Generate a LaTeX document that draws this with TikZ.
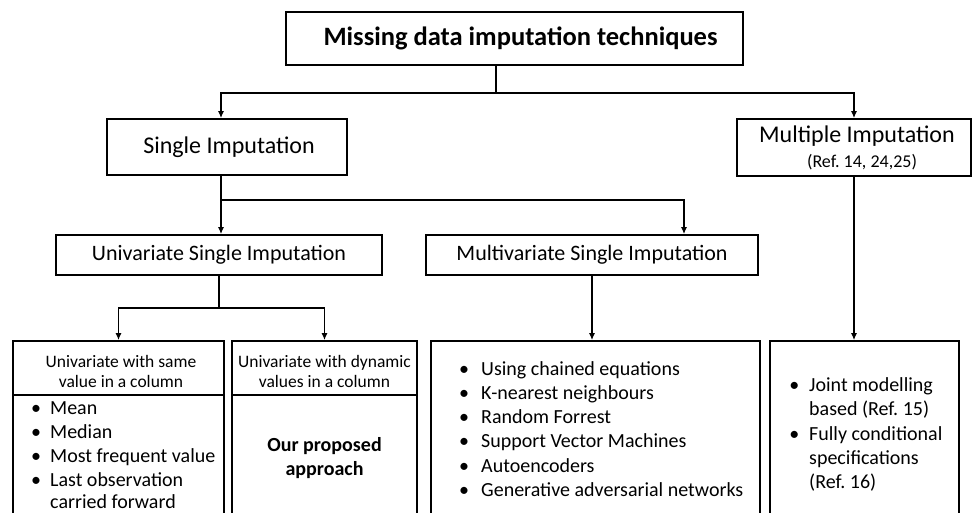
\documentclass[tikz,border=0pt]{standalone}
\usepackage{fontspec}
\setmainfont{Carlito}
\frenchspacing
\usetikzlibrary{shapes,arrows.meta,positioning}
\tikzset{
      box/.style   = {draw=black, line width=1.8pt, inner sep=0pt},
      link/.style  = {black, line width=1.2pt},
      arr/.style   = {black, line width=1.2pt, -{Latex[length=7pt,width=6pt]}},
      itemtxt/.style = {inner sep=0pt, anchor=base west, font=\fontsize{20}{24}\selectfont},
      headtxt/.style = {inner sep=0pt, anchor=base, font=\fontsize{17.5}{20}\selectfont},
    }
\newcommand{\itm}[1][9pt]{\llap{\textbullet\hspace{#1}}}

\begin{document}
\begin{tikzpicture}[x=1pt, y=-1pt]
    \useasboundingbox (0,0) rectangle (974,513);
    \clip (0,0) rectangle (974,513);

    % boxes
    \node[box, minimum width=457, minimum height=53, font=\fontsize{26.5}{30}\selectfont\bfseries] (title) at (514.5,38.5) {\hspace*{12pt}Missing data imputation techniques};
    \node[box, minimum width=240, minimum height=56, font=\fontsize{24}{28}\selectfont] (single) at (227,147) {\hspace*{4pt}Single Imputation};
    \node[box, minimum width=234, minimum height=57, align=center, font=\fontsize{24}{25}\selectfont] (multi) at (854,147.5) {\hspace*{6pt}Multiple Imputation\\{\fontsize{18}{26}\selectfont\hspace*{16pt}(Ref. 14, 24,25)}};
    \node[box, minimum width=326, minimum height=40, font=\fontsize{22}{26}\selectfont] (uni) at (219,255) {Univariate Single Imputation};
    \node[box, minimum width=332, minimum height=40, font=\fontsize{22}{26}\selectfont] (multiv) at (592,255) {Multivariate Single Imputation};
    \node[box, minimum width=211, minimum height=199] (b1) at (118.5,440.5) {};
    \node[box, minimum width=185, minimum height=199] (b2) at (324.5,440.5) {};
    \node[box, minimum width=329, minimum height=199] (b3) at (595.5,440.5) {};
    \node[box, minimum width=189, minimum height=199] (b4) at (864.5,440.5) {};

    % connectors
    \coordinate (j0) at (496,93);
    \coordinate (sx) at (221,0);
    \coordinate (j1) at (221,200);
    \coordinate (mx) at (684,0);
    \coordinate (j2) at (219,308);
    \coordinate (hd) at (0,395);
    \draw[link] (title.south -| j0) -- (j0);
    \draw[arr] (j0) -| (single.north -| sx);
    \draw[arr] (j0) -| (multi.north);
    \draw[arr] (single.south -| j1) -- (uni.north -| j1);
    \draw[arr] (j1) -| (multiv.north -| mx);
    \draw[link] (uni.south) -- (j2);
    \draw[arr] (j2) -| (b1.north);
    \draw[arr] (j2) -| (b2.north);
    \draw[arr] (multiv.south) -- (multiv.south |- b3.north);
    \draw[arr] (multi.south) -- (multi.south |- b4.north);
    \draw[line width=1.5pt] (b1.west |- hd) -- (b1.east |- hd);
    \draw[line width=1.5pt] (b2.west |- hd) -- (b2.east |- hd);

    % univariate, same value
    \node[headtxt] (h1a) at (121,367) {Univariate with same};
    \node[headtxt] (h1b) at (121,387) {value in a column};
    \node[itemtxt] (u1) at (50,414) {\itm Mean};
    \node[itemtxt] (u2) at (50,438) {\itm Median};
    \node[itemtxt] (u3) at (50,462) {\itm Most frequent value};
    \node[itemtxt] (u4) at (50,486) {\itm Last observation};
    \node[itemtxt] (u5) at (50,508.5) {carried forward};

    % univariate, dynamic values
    \node[headtxt] (h2a) at (324.5,367) {Univariate with dynamic};
    \node[headtxt] (h2b) at (324.5,387) {values in a column};
    \node[headtxt, font=\fontsize{20}{24}\selectfont\bfseries] (our1) at (324.5,451) {Our proposed};
    \node[headtxt, font=\fontsize{20}{24}\selectfont\bfseries] (our2) at (324.5,475) {approach};

    % multivariate
    \node[itemtxt] (m1) at (481,375) {\itm[12pt]Using chained equations};
    \node[itemtxt] (m2) at (481,399) {\itm[12pt]K-nearest neighbours};
    \node[itemtxt] (m3) at (481,423.5) {\itm[12pt]Random Forrest};
    \node[itemtxt] (m4) at (481,447.5) {\itm[12pt]Support Vector Machines};
    \node[itemtxt] (m5) at (481,472) {\itm[12pt]Autoencoders};
    \node[itemtxt] (m6) at (481,496) {\itm[12pt]Generative adversarial networks};

    % multiple
    \node[itemtxt] (r1) at (809,391) {\itm[10pt]Joint modelling};
    \node[itemtxt] (r2) at (809,415) {based (Ref. 15)};
    \node[itemtxt] (r3) at (809,440) {\itm[10pt]Fully conditional};
    \node[itemtxt] (r4) at (809,464) {specifications};
    \node[itemtxt] (r5) at (809,488) {(Ref. 16)};
\end{tikzpicture}
\end{document}
